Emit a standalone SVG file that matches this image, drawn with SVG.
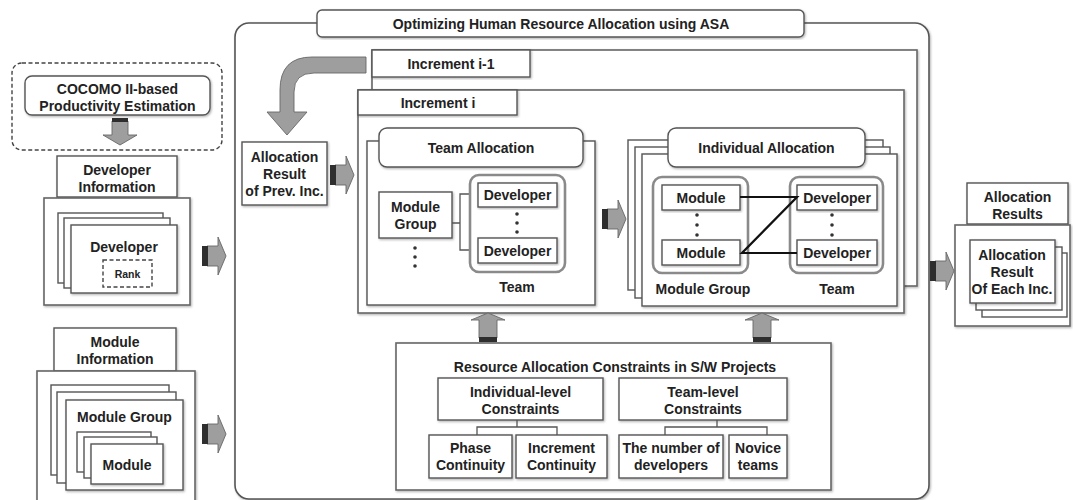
<svg xmlns="http://www.w3.org/2000/svg" xmlns:xlink="http://www.w3.org/1999/xlink" width="1073" height="500" viewBox="0 0 1073 500">
<style>
.t{font-family:"Liberation Sans",Arial,sans-serif;font-weight:bold;font-size:14px;fill:#222;text-anchor:middle}
.s{font-size:10.5px}
.box{fill:#fff;stroke:#555;stroke-width:1.4}
.frame{fill:#fff;stroke:#666;stroke-width:1.6}
.grp{fill:none;stroke:#8a8a8a;stroke-width:2.6}
.dash{fill:none;stroke:#444;stroke-width:1.4;stroke-dasharray:4 2.5}
.ln{stroke:#111;stroke-width:2.2;fill:none}
.thin{stroke:#555;stroke-width:1.3;fill:none}
.arr{fill:#9e9e9e;stroke:#666;stroke-width:0.9}
.dk{fill:#2e2e2e}
.dot{fill:#333}
</style>
<defs>
<filter id="sh" x="-5%" y="-5%" width="115%" height="115%"><feDropShadow dx="1" dy="1.2" stdDeviation="0.8" flood-color="#000" flood-opacity="0.3"/></filter>
<g id="rarr"><path class="arr" d="M5,-10 H16 V-19 L24,0 L16,19 V10 H5 Z"/><rect class="dk" x="0" y="-10" width="6" height="20"/></g>
<g id="uarr"><path class="arr" d="M0,0 L17,7 H9 V25 H-9 V7 H-17 Z"/><rect class="dk" x="-9" y="24" width="18" height="5"/></g>
<g id="darr"><path class="arr" d="M-8,3 H8 V17 H17 L0,27 L-17,17 H-8 Z"/><rect class="dk" x="-8" y="0" width="16" height="4"/></g>
</defs>
<rect width="1073" height="500" fill="#fff"/>

<g id="main-frame">
<rect x="235" y="23" width="694" height="476" rx="14" fill="#fff" stroke="#555" stroke-width="1.6" filter="url(#sh)"/>
<rect class="box" x="317" y="10" width="487" height="27" rx="5" filter="url(#sh)"/>
<text class="t" x="561" y="28.5">Optimizing Human Resource Allocation using ASA</text>
</g>

<g id="increment-prev">
<rect class="frame" x="372" y="50" width="545" height="236" filter="url(#sh)"/>
<rect class="box" x="372" y="50" width="158" height="27" filter="url(#sh)"/>
<text class="t" x="451" y="68.5">Increment i-1</text>
</g>

<g id="increment-i">
<rect class="frame" x="358" y="90" width="546" height="223" filter="url(#sh)"/>
<rect class="box" x="358" y="90" width="159" height="25" filter="url(#sh)"/>
<text class="t" x="438" y="107.5">Increment i</text>
</g>

<g id="prev-result">
<rect class="box" x="242" y="142" width="85" height="63" filter="url(#sh)"/>
<text class="t" x="284.5" y="161.5">Allocation</text>
<text class="t" x="284.5" y="178.5">Result</text>
<text class="t" x="284.5" y="195.5">of Prev. Inc.</text>
</g>

<g id="team-allocation">
<rect class="box" x="367" y="141" width="228" height="164" filter="url(#sh)"/>
<rect class="box" x="379" y="128" width="204" height="39" rx="8" filter="url(#sh)"/>
<text class="t" x="481" y="152.5">Team Allocation</text>
<rect class="box" x="379" y="192" width="73" height="46" filter="url(#sh)"/>
<text class="t" x="415.5" y="212">Module</text>
<text class="t" x="415.5" y="229">Group</text>
<circle class="dot" cx="415" cy="248" r="1.8"/><circle class="dot" cx="415" cy="257" r="1.8"/><circle class="dot" cx="415" cy="266" r="1.8"/>
<path class="thin" d="M452,223 H460 M470,194 H460 V250 H470"/>
<rect class="grp" x="470" y="175" width="95" height="97" rx="9"/>
<rect class="box" x="478" y="183" width="79" height="24" filter="url(#sh)"/>
<text class="t" x="517.5" y="200">Developer</text>
<rect class="box" x="478" y="238" width="79" height="25" filter="url(#sh)"/>
<text class="t" x="517.5" y="255.5">Developer</text>
<circle class="dot" cx="517" cy="214" r="1.8"/><circle class="dot" cx="517" cy="223" r="1.8"/><circle class="dot" cx="517" cy="232" r="1.8"/>
<text class="t" x="517" y="292">Team</text>
</g>

<g id="individual-allocation">
<rect class="box" x="628" y="140" width="255" height="150"/>
<rect class="box" x="635" y="147" width="255" height="151"/>
<rect class="box" x="642" y="154" width="255" height="152" filter="url(#sh)"/>
<rect class="box" x="668" y="128" width="197" height="39" rx="8" filter="url(#sh)"/>
<text class="t" x="766.5" y="152.5">Individual Allocation</text>
<rect class="grp" x="653" y="177" width="95" height="96" rx="9"/>
<rect class="box" x="662" y="185" width="78" height="25" filter="url(#sh)"/>
<text class="t" x="701" y="202.5">Module</text>
<rect class="box" x="662" y="240" width="78" height="25" filter="url(#sh)"/>
<text class="t" x="701" y="257.5">Module</text>
<circle class="dot" cx="697" cy="215" r="1.8"/><circle class="dot" cx="697" cy="225" r="1.8"/><circle class="dot" cx="697" cy="235" r="1.8"/>
<text class="t" x="703" y="294">Module Group</text>
<rect class="grp" x="790" y="177" width="93" height="96" rx="9"/>
<rect class="box" x="797" y="185" width="80" height="25" filter="url(#sh)"/>
<text class="t" x="837" y="202.5">Developer</text>
<rect class="box" x="797" y="240" width="80" height="25" filter="url(#sh)"/>
<text class="t" x="837" y="257.5">Developer</text>
<circle class="dot" cx="832" cy="215" r="1.8"/><circle class="dot" cx="832" cy="225" r="1.8"/><circle class="dot" cx="832" cy="235" r="1.8"/>
<text class="t" x="837" y="294">Team</text>
</g>

<g id="constraints">
<rect class="frame" x="396" y="343" width="435" height="147" filter="url(#sh)"/>
<text class="t" x="615" y="372">Resource Allocation Constraints in S/W Projects</text>
<rect class="box" x="438" y="378" width="165" height="42" filter="url(#sh)"/>
<text class="t" x="520.5" y="397">Individual-level</text>
<text class="t" x="520.5" y="413.5">Constraints</text>
<rect class="box" x="619" y="378" width="168" height="42" filter="url(#sh)"/>
<text class="t" x="703" y="397">Team-level</text>
<text class="t" x="703" y="413.5">Constraints</text>
<path class="thin" d="M517,420 V427 M477,435 V427 H557 V435 M717,420 V427 M665,435 V427 H767 V435"/>
<rect class="box" x="429" y="435" width="83" height="43" filter="url(#sh)"/>
<text class="t" x="470.5" y="453">Phase</text>
<text class="t" x="470.5" y="470">Continuity</text>
<rect class="box" x="516" y="435" width="91" height="43" filter="url(#sh)"/>
<text class="t" x="561.5" y="453">Increment</text>
<text class="t" x="561.5" y="470">Continuity</text>
<rect class="box" x="619" y="435" width="104" height="43" filter="url(#sh)"/>
<text class="t" x="671" y="453">The number of</text>
<text class="t" x="671" y="470">developers</text>
<rect class="box" x="729" y="435" width="58" height="43" filter="url(#sh)"/>
<text class="t" x="758" y="453">Novice</text>
<text class="t" x="758" y="470">teams</text>
</g>

<g id="cocomo">
<rect class="dash" x="12" y="63" width="210" height="87" rx="10"/>
<rect class="box" x="25" y="76" width="185" height="39" rx="7" filter="url(#sh)"/>
<text class="t" x="117.5" y="94">COCOMO II-based</text>
<text class="t" x="117.5" y="110.5">Productivity Estimation</text>
</g>

<g id="developer-info">
<rect class="box" x="57" y="156" width="120" height="41" filter="url(#sh)"/>
<text class="t" x="117" y="175">Developer</text>
<text class="t" x="117" y="192">Information</text>
<rect class="frame" x="44" y="198" width="146" height="107" filter="url(#sh)"/>
<rect class="box" x="58" y="213" width="105" height="70"/>
<rect class="box" x="64" y="218" width="106" height="70"/>
<rect class="box" x="71" y="225" width="106" height="68" filter="url(#sh)"/>
<text class="t" x="124" y="252">Developer</text>
<rect class="dash" x="103" y="260" width="49" height="27" stroke-width="1"/>
<text class="t s" x="127.5" y="277.5">Rank</text>
</g>

<g id="module-info">
<rect class="box" x="54" y="328" width="122" height="43" filter="url(#sh)"/>
<text class="t" x="115" y="347">Module</text>
<text class="t" x="115" y="363.5">Information</text>
<rect class="frame" x="37" y="371" width="158" height="140" filter="url(#sh)"/>
<rect class="box" x="51" y="385" width="118" height="90"/>
<rect class="box" x="57" y="392" width="119" height="91"/>
<rect class="box" x="66" y="400" width="117" height="90" filter="url(#sh)"/>
<text class="t" x="124.5" y="422">Module Group</text>
<rect class="box" x="77" y="432" width="74" height="40"/>
<rect class="box" x="84" y="437" width="73" height="41"/>
<rect class="box" x="91" y="444" width="72" height="40" filter="url(#sh)"/>
<text class="t" x="127" y="469.5">Module</text>
</g>

<g id="allocation-results">
<rect class="box" x="967" y="183" width="101" height="41" filter="url(#sh)"/>
<text class="t" x="1017.5" y="202">Allocation</text>
<text class="t" x="1017.5" y="218.5">Results</text>
<rect class="frame" x="955" y="225" width="115" height="101" filter="url(#sh)"/>
<rect class="box" x="982" y="253" width="85" height="64"/>
<rect class="box" x="976" y="247" width="86" height="63"/>
<rect class="box" x="970" y="240" width="85" height="63" filter="url(#sh)"/>
<text class="t" x="1012" y="260">Allocation</text>
<text class="t" x="1012" y="277">Result</text>
<text class="t" x="1012" y="293.5">Of Each Inc.</text>
</g>

<g id="connectors">
<path class="arr" d="M366,57 H312 Q280,57 280,90 V112 H267 L287,135 L307,112 H294 V92 Q294,73 314,73 H366 Z"/>
<use xlink:href="#darr" x="120" y="118"/>
<use xlink:href="#rarr" x="202" y="256"/>
<use xlink:href="#rarr" x="202" y="434"/>
<use xlink:href="#rarr" x="330" y="175"/>
<use xlink:href="#rarr" x="602" y="219"/>
<use xlink:href="#rarr" x="930" y="271"/>
<use xlink:href="#uarr" x="488" y="313"/>
<use xlink:href="#uarr" x="762" y="313"/>
<path class="ln" d="M740,197 H797 L742,253 H797"/>
</g>
</svg>
